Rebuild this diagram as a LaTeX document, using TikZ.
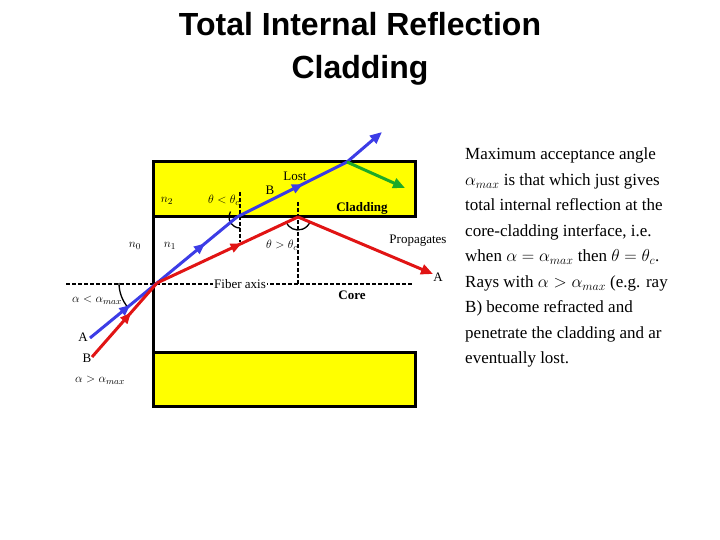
\documentclass[tikz,border=0pt]{standalone}
\usepackage{fontspec}
\setmainfont{Liberation Serif}
\newfontfamily\titlefont{Liberation Sans}
\usetikzlibrary{arrows.meta,decorations.markings,calc}
\definecolor{clad}{RGB}{255,255,0}
\definecolor{rayblue}{RGB}{60,60,230}
\definecolor{rayred}{RGB}{225,20,20}
\definecolor{raygreen}{RGB}{30,170,40}
\tikzset{
 box/.style={draw=black,line width=3pt,fill=clad},
 ray/.style={line width=3pt,-{Triangle[length=12pt,width=10pt]}},
 rayseg/.style={line width=3pt},
 midarrow/.style={postaction={decorate},decoration={markings,mark=at position 0.6 with {\arrow{Triangle[length=11pt,width=9pt]}}}},
 lab/.style={font=\fontsize{13}{13}\selectfont,inner sep=0pt},
 normal/.style={line width=1.5pt,dash pattern=on 4pt off 2pt},
}
\begin{document}
\begin{tikzpicture}[x=1pt,y=-1pt]
\useasboundingbox (0,0) rectangle (720,540);
\node[font=\titlefont\bfseries\fontsize{32}{32}\selectfont] (t1) at (360,24) {Total Internal Reflection};
\node[font=\titlefont\bfseries\fontsize{32}{32}\selectfont] (t2) at (360,70) {Cladding};
% cladding boxes
\draw[box] (153,162) rectangle (415,217);
\draw[box] (153,352) rectangle (415,406);
\draw[line width=3pt] (153,217) -- (153,352);
% axis
\draw[line width=2pt,dash pattern=on 4pt off 2pt] (66,284) -- (413,284);
% normals
\draw[normal] (240,192) -- (240,242);
\draw[normal] (298,202) -- (298,284);
% coordinates
\coordinate (entry) at (157,283);
\coordinate (bs) at (90,338);
\coordinate (bc) at (237,217);
\coordinate (bt) at (347,162);
\coordinate (be) at (382,132);
\coordinate (ge) at (405,188);
\coordinate (rs) at (92,357);
\coordinate (rr) at (298,217);
\coordinate (re) at (433,274);
% arcs
\draw[line width=1.3pt] ($(240,217)+(210:11)$) arc (210:90:11);
\draw[line width=1.3pt] ($(rr)+(160:13)$) arc (160:20:13);
\draw[line width=1.3pt] (119,283) arc (180:140:38);
% rays
\draw[rayseg,rayblue,midarrow] (bs) -- (entry);
\draw[rayseg,rayblue,midarrow] (entry) -- (bc);
\draw[rayseg,rayblue,midarrow] (bc) -- (bt);
\draw[ray,rayblue] (bt) -- (be);
\draw[ray,raygreen] (bt) -- (ge);
\draw[rayseg,rayred,midarrow] (rs) -- (entry);
\draw[rayseg,rayred,midarrow] (entry) -- (rr);
\draw[ray,rayred] (rr) -- (re);
% labels
\node[lab] (lost) at (295,176) {Lost};
\node[lab] (lb) at (270,190) {B};
\node[lab] (n2) at (167,201) {$n_2$};
\node[lab] (tlc) at (224,200) {$\theta<\theta_c$};
\node[lab,font=\bfseries\fontsize{13}{13}\selectfont] (cl) at (362,208) {Cladding};
\node[lab] (prop) at (418,241) {Propagates};
\node[lab] (n0) at (135,246) {$n_0$};
\node[lab] (n1) at (170,246) {$n_1$};
\node[lab] (tgc) at (282,245) {$\theta>\theta_c$};
\node[lab,fill=white,inner sep=1pt] (fa) at (240,284) {Fiber axis};
\node[lab,font=\bfseries\fontsize{13}{13}\selectfont] (core) at (352,295) {Core};
\node[lab] (la) at (438,277) {A};
\node[lab] (alt) at (97,300) {$\alpha<\alpha_{max}$};
\node[lab] (la2) at (83,337) {A};
\node[lab] (lb2) at (87,358) {B};
\node[lab] (agt) at (100,380) {$\alpha>\alpha_{max}$};
% text
\node[anchor=north west,align=left,inner sep=0pt,font=\fontsize{17}{25.5}\selectfont] (txt) at (465,148) {Maximum acceptance angle\\
$\alpha_{max}$ is that which just gives\\
total internal reflection at the\\
core-cladding interface, i.e.\\
when $\alpha=\alpha_{max}$ then $\theta=\theta_c$.\\
Rays with $\alpha>\alpha_{max}$ (e.g. ray\\
B) become refracted and\\
penetrate the cladding and ar\\
eventually lost.};
\end{tikzpicture}
\end{document}
